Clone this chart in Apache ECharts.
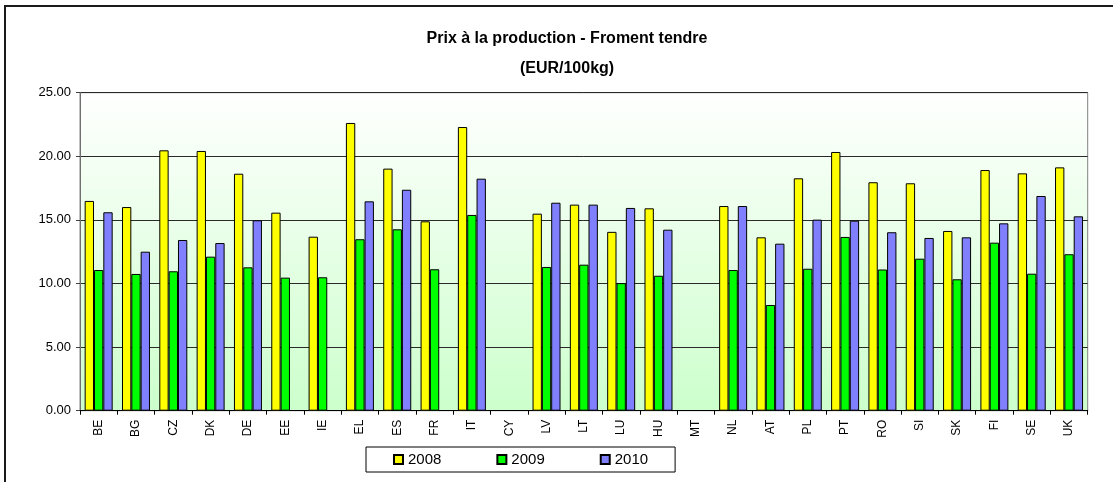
<!DOCTYPE html>
<html>
<head>
<meta charset="utf-8">
<title>Prix à la production - Froment tendre</title>
<script src="https://cdn.jsdelivr.net/npm/echarts@6/dist/echarts.min.js"></script>
<style>
  html, body { margin: 0; padding: 0; background: #ffffff; }
  #chart { width: 1113px; height: 482px; }
</style>
</head>
<body>
<div id="chart"></div>
<script>
// Member states, in the order of the official listing
const countries = ['BE','BG','CZ','DK','DE','EE','IE','EL','ES','FR','IT','CY','LV','LT','LU','HU','MT','NL','AT','PL','PT','RO','SI','SK','FI','SE','UK'];

// Producer prices, soft wheat (EUR/100kg); null = no quotation
const price2008 = [16.49,16.01,20.47,20.42,18.63,15.57,13.68,22.62,19.03,14.89,22.30,null,15.49,16.20,14.06,15.91,null,16.09,13.63,18.27,20.34,17.96,17.88,14.13,18.92,18.66,19.13];
const price2009 = [11.06,10.75,10.96,12.11,11.27,10.46,10.49,13.48,14.26,11.12,15.39,null,11.30,11.48,10.03,10.61,null,11.06,8.31,11.16,13.66,11.10,11.95,10.33,13.21,10.77,12.30];
const price2010 = [15.60,12.50,13.42,13.18,14.97,null,null,16.46,17.37,null,18.24,null,16.35,16.20,15.94,14.23,null,16.09,13.13,15.02,14.94,14.03,13.58,13.63,14.73,16.88,15.28];

const years = ['2008','2009','2010'];
const seriesData = [price2008, price2009, price2010];
const seriesColors = ['#FFFF00', '#00FF00', '#8080FF'];

const FONT = '"Liberation Sans", Arial, sans-serif';

const chart = echarts.init(document.getElementById('chart'), null, { renderer: 'canvas' });

chart.setOption({
  animation: false,
  backgroundColor: '#ffffff',
  textStyle: { fontFamily: FONT, color: '#000' },
  title: {
    text: 'Prix à la production - Froment tendre\n(EUR/100kg)',
    left: 562,
    top: 19,
    textAlign: 'center',
    textStyle: { fontFamily: FONT, fontSize: 16, fontWeight: 'bold', color: '#000', lineHeight: 30 }
  },
  graphic: [{
    type: 'rect',
    silent: true,
    shape: { x: 5, y: 6, width: 1400, height: 800 },
    style: { fill: 'none', stroke: '#1a1a1a', lineWidth: 2 }
  }],
  legend: {
    data: years,
    left: 366,
    top: 447,
    padding: [5, 27, 5, 27],
    itemWidth: 9,
    itemHeight: 9,
    itemGap: 55,
    icon: 'rect',
    borderColor: '#000',
    borderWidth: 1,
    textStyle: { fontFamily: FONT, fontSize: 15, color: '#000' }
  },
  grid: {
    left: 80,
    right: 25.3,
    top: 92.7,
    bottom: 71.3,
    show: true,
    borderColor: '#808080',
    borderWidth: 1,
    backgroundColor: {
      type: 'linear', x: 0, y: 0, x2: 0, y2: 1,
      colorStops: [
        { offset: 0, color: '#ffffff' },
        { offset: 1, color: '#ccffcc' }
      ]
    }
  },
  xAxis: {
    type: 'category',
    data: countries,
    axisLine: { lineStyle: { color: '#000', width: 1 } },
    axisTick: { show: true, alignWithLabel: false, length: 4, lineStyle: { color: '#000' } },
    axisLabel: {
      rotate: 90,
      interval: 0,
      margin: 9,
      fontFamily: FONT,
      fontSize: 12,
      color: '#000'
    },
    splitLine: { show: false }
  },
  yAxis: {
    type: 'value',
    min: 0,
    max: 25,
    interval: 5,
    axisLine: { show: true, lineStyle: { color: '#707070', width: 1 } },
    axisTick: { show: true, length: 4, lineStyle: { color: '#404040' } },
    axisLabel: {
      margin: 9,
      fontFamily: FONT,
      fontSize: 13,
      color: '#000',
      formatter: v => v.toFixed(2)
    },
    splitLine: { show: true, lineStyle: { color: '#2a2a2a', width: 1 } }
  },
  series: years.map((y, i) => ({
    name: y,
    type: 'bar',
    data: seriesData[i],
    barGap: '0%',
    barCategoryGap: '25%',
    itemStyle: { color: seriesColors[i], borderColor: '#000', borderWidth: 1 }
  }))
});
</script>
</body>
</html>
